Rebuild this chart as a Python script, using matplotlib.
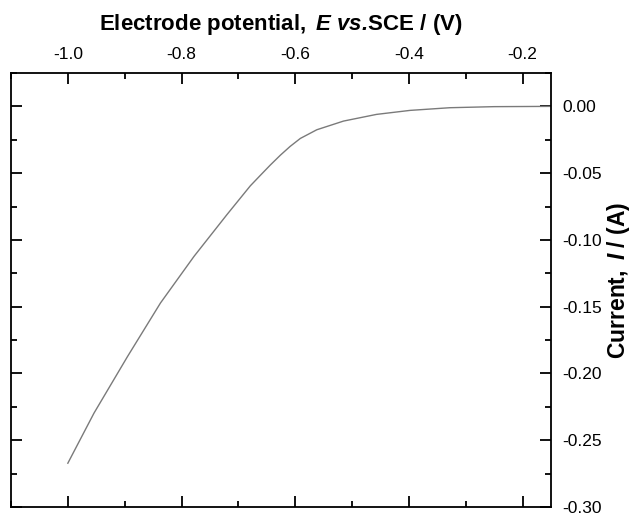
import numpy as np
import matplotlib
matplotlib.use("Agg")
import matplotlib.pyplot as plt
from matplotlib.ticker import MultipleLocator

plt.rcParams['font.family'] = ['Liberation Sans', 'DejaVu Sans']
plt.rcParams['mathtext.fontset'] = 'custom'
plt.rcParams['mathtext.rm'] = 'Liberation Sans'
plt.rcParams['mathtext.bf'] = 'Liberation Sans:bold'
plt.rcParams['mathtext.it'] = 'Liberation Sans:italic'
plt.rcParams['mathtext.bfit'] = 'Liberation Sans:bold:italic'

# Curva de polarizacion
potencial = [-1.0, -0.954, -0.895, -0.837, -0.778, -0.720, -0.679, -0.661,
             -0.644, -0.626, -0.609, -0.591, -0.562, -0.515, -0.457, -0.398,
             -0.328, -0.25, -0.15]
corriente = [-0.2672, -0.2297, -0.1873, -0.1472, -0.1123, -0.0810, -0.0595, -0.0515,
             -0.0440, -0.0365, -0.0300, -0.0240, -0.0175, -0.0110, -0.0060, -0.0030,
             -0.0010, -0.0002, 0.0]

fig = plt.figure(figsize=(6.34, 5.13), dpi=100)
ax = fig.add_axes([11 / 634, 1 - 507 / 513, 540 / 634, 434 / 513])

ax.plot(potencial, corriente, color='#7a7a7a', lw=1.0)

ax.set_xlim(-1.1, -0.15)
ax.set_ylim(-0.30, 0.025)

ax.xaxis.set_major_locator(MultipleLocator(0.2))
ax.xaxis.set_minor_locator(MultipleLocator(0.1))
ax.yaxis.set_major_locator(MultipleLocator(0.05))
ax.yaxis.set_minor_locator(MultipleLocator(0.025))
ax.xaxis.set_major_formatter(plt.FormatStrFormatter('%.1f'))
ax.yaxis.set_major_formatter(plt.FormatStrFormatter('%.2f'))

ax.tick_params(which='both', direction='in', top=True, bottom=True, left=True, right=True,
               labeltop=True, labelbottom=False, labelleft=False, labelright=True,
               width=1.3, labelsize=12.5, pad=8)
ax.tick_params(which='major', length=8)
ax.tick_params(which='minor', length=4)
for s in ax.spines.values():
    s.set_linewidth(1.3)

ax.xaxis.set_label_position('top')
ax.yaxis.set_label_position('right')
ax.set_xlabel(r'$\mathbf{Electrode\ potential,}\ \mathbfit{E}\ \mathbfit{vs.}\!\mathbf{SCE\ /\ (V)}$',
              fontsize=16, labelpad=12)
ax.set_ylabel(r'$\mathbf{Current,}\ \mathbfit{I}\ \mathbf{/\ (A)}$', fontsize=16.5)
ax.yaxis.set_label_coords(1.100, 0.523)

fig.savefig('out.png', dpi=100)
